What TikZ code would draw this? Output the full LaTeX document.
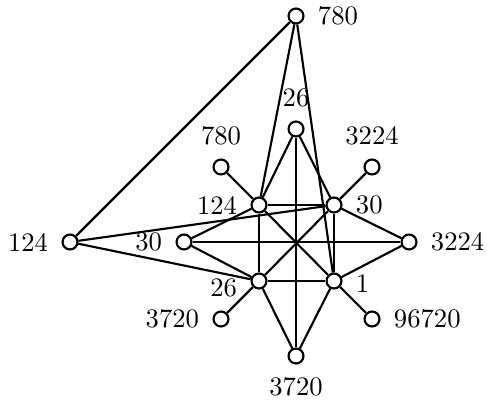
\documentclass[tikz,border=0pt]{standalone}
\tikzset{
  vertex/.style={circle, draw=black, thick, fill=white, inner sep=0pt, minimum size=5.6pt},
  link/.style={thick, draw=black}
}
\begin{document}
\begin{tikzpicture}[x=0.375pt, y=-0.375pt, label distance=1.5pt]
  \useasboundingbox (0,0) rectangle (487,404);

  % outer points
  \node[vertex, label={right:780}] (top) at (296,16) {};
  \node[vertex, label={left:124}] (far) at (70,242) {};

  % star tips
  \node[vertex, label={above:26}] (n) at (296,129) {};
  \node[vertex, label={left:30}] (w) at (184,242) {};
  \node[vertex, label={right:3224}] (e) at (409,242) {};
  \node[vertex, label={below:3720}] (s) at (296,356) {};

  % inner square
  \node[vertex, label={left:124}] (a) at (259,205) {};
  \node[vertex, label={right:30}] (b) at (334,205) {};
  \node[vertex, label={[yshift=-2.6pt]left:26}] (c) at (259,281) {};
  \node[vertex, label={[yshift=-0.8pt]right:1}] (d) at (334,281) {};

  % pendant vertices
  \node[vertex, label={above:780}] (pa) at (221,167) {};
  \node[vertex, label={above:3224}] (pb) at (372,167) {};
  \node[vertex, label={left:3720}] (pc) at (221,319) {};
  \node[vertex, label={right:96720}] (pd) at (372,319) {};

  \draw[link] (top) -- (far);
  \draw[link] (top) -- (a);
  \draw[link] (top) -- (d);
  \draw[link] (far) -- (b);
  \draw[link] (far) -- (c);

  \draw[link] (n) -- (a);
  \draw[link] (n) -- (b);
  \draw[link] (n) -- (s);
  \draw[link] (w) -- (a);
  \draw[link] (w) -- (c);
  \draw[link] (w) -- (e);
  \draw[link] (e) -- (b);
  \draw[link] (e) -- (d);
  \draw[link] (s) -- (c);
  \draw[link] (s) -- (d);

  \draw[link] (a) -- (b);
  \draw[link] (a) -- (c);
  \draw[link] (b) -- (d);
  \draw[link] (c) -- (d);
  \draw[link] (a) -- (d);
  \draw[link] (b) -- (c);

  \draw[link] (a) -- (pa);
  \draw[link] (b) -- (pb);
  \draw[link] (c) -- (pc);
  \draw[link] (d) -- (pd);
\end{tikzpicture}
\end{document}
